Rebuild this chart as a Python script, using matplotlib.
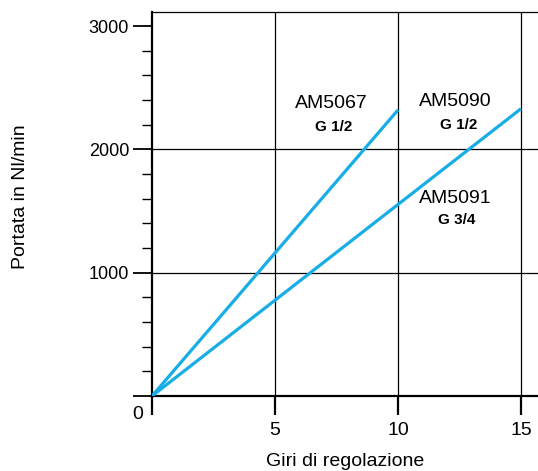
import numpy as np
import matplotlib
matplotlib.use("Agg")
import matplotlib.pyplot as plt
from matplotlib.ticker import MultipleLocator, FixedLocator

plt.rcParams["font.family"] = ["Liberation Sans", "DejaVu Sans"]

# flow vs adjustment turns
turns_am5067 = [0, 10]
flow_am5067 = [0, 2320]
turns_am5090 = [0, 15]
flow_am5090 = [0, 2330]

x_ticks = [0, 5, 10, 15]
x_labels = ["", "5", "10", "15"]
y_ticks = [0, 1000, 2000, 3000]
y_labels = ["", "1000", "2000", "3000"]

line_color = "#17ade6"

fig = plt.figure(figsize=(5.38, 4.71), dpi=100)
ax = fig.add_axes([0.2825, 0.1592, 0.7175, 0.8153])

ax.set_xlim(0, 15.69)
ax.set_ylim(0, 3114)

ax.plot(turns_am5067, flow_am5067, color=line_color, lw=2.3, solid_capstyle="butt", zorder=3)
ax.plot(turns_am5090, flow_am5090, color=line_color, lw=2.3, solid_capstyle="butt", zorder=3)

# grid
for x in [5, 10, 15]:
    ax.axvline(x, color="black", lw=0.9, zorder=1)
for y in [1000, 2000]:
    ax.axhline(y, color="black", lw=0.9, zorder=1)

ax.spines["right"].set_visible(False)
ax.spines["top"].set_linewidth(0.9)
ax.spines["left"].set_linewidth(1.6)
ax.spines["bottom"].set_linewidth(1.6)

ax.xaxis.set_major_locator(FixedLocator(x_ticks))
ax.set_xticklabels(x_labels, fontsize=14)
ax.yaxis.set_major_locator(FixedLocator(y_ticks))
ax.set_yticklabels(y_labels, fontsize=13)
ax.yaxis.set_minor_locator(MultipleLocator(200))

ax.tick_params(axis="x", which="major", direction="out", length=13.5, width=1.6, pad=5)
ax.tick_params(axis="y", which="major", direction="out", length=13.5, width=1.3, pad=3)
ax.tick_params(axis="y", which="minor", direction="out", length=7.5, width=1.0)

ax.annotate("0", xy=(0, 0), xytext=(-10, -13), textcoords="offset points",
            ha="center", va="center", fontsize=14)

ax.set_ylabel("Portata in Nl/min", fontsize=14)
ax.yaxis.set_label_coords(-0.318, 0.518)
ax.set_xlabel("Giri di regolazione", fontsize=14)
ax.xaxis.set_label_coords(0.5, -0.148)

ax.text(7.28, 2376, "AM5067", ha="center", va="center", fontsize=14)
ax.text(7.40, 2182, "G 1/2", ha="center", va="center", fontsize=11, fontweight="bold")
ax.text(12.32, 2388, "AM5090", ha="center", va="center", fontsize=14)
ax.text(12.48, 2198, "G 1/2", ha="center", va="center", fontsize=11, fontweight="bold")
ax.text(12.32, 1602, "AM5091", ha="center", va="center", fontsize=14)
ax.text(12.40, 1427, "G 3/4", ha="center", va="center", fontsize=11, fontweight="bold")

fig.savefig("out.png", dpi=100)
